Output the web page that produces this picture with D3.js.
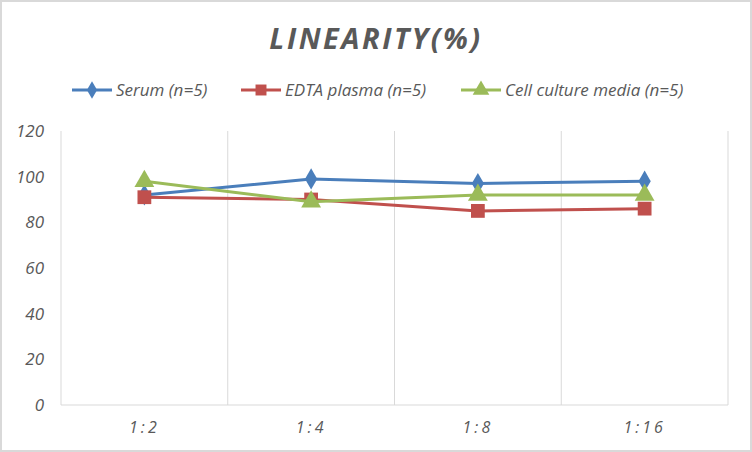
<!DOCTYPE html>
<html>
<head>
<meta charset="utf-8">
<script src="https://cdn.jsdelivr.net/npm/d3@7"></script>
<style>
  html, body { margin: 0; padding: 0; background: #fff; }
  svg { display: block; font-family: "Open Sans", "Liberation Sans", sans-serif; }
</style>
</head>
<body>
<div id="chart"></div>
<script>
const categories = ['1:2', '1:4', '1:8', '1:16'];
const serum = [92, 99, 97, 98];
const edta = [91, 90, 85, 86];
const cellCulture = [98, 89, 92, 92];
const yTicks = [0, 20, 40, 60, 80, 100, 120];

const seriesNames = ['Serum (n=5)', 'EDTA plasma (n=5)', 'Cell culture media (n=5)'];
const seriesColors = ['#4a7ebb', '#c0504d', '#9bbb59'];
const seriesShapes = [d3.symbolDiamond, d3.symbolSquare, d3.symbolTriangle];
const seriesValues = [serum, edta, cellCulture];

const width = 752, height = 452;
const margin = { top: 131, right: 24, bottom: 47, left: 61 };

const svg = d3.select('#chart').append('svg')
    .attr('width', width)
    .attr('height', height);

// cadre
svg.append('rect')
    .attr('x', 1).attr('y', 1)
    .attr('width', width - 2).attr('height', height - 2)
    .attr('fill', '#fff')
    .attr('stroke', '#d9d9d9')
    .attr('stroke-width', 2);

const x = d3.scaleBand()
    .domain(categories)
    .range([margin.left, width - margin.right]);

const y = d3.scaleLinear()
    .domain([0, 120])
    .range([height - margin.bottom, margin.top]);

// lignes verticales entre catégories
svg.append('g')
    .selectAll('line')
    .data(categories)
    .enter()
    .append('line')
    .attr('x1', d => x(d) + x.bandwidth())
    .attr('x2', d => x(d) + x.bandwidth())
    .attr('y1', y(0))
    .attr('y2', y(120))
    .attr('stroke', '#d9d9d9')
    .attr('stroke-width', 1);

// axe y vertical
svg.append('line')
    .attr('x1', margin.left).attr('x2', margin.left)
    .attr('y1', y(0)).attr('y2', y(120))
    .attr('stroke', '#d9d9d9');

// axe x
svg.append('line')
    .attr('x1', margin.left).attr('x2', width - margin.right)
    .attr('y1', y(0)).attr('y2', y(0))
    .attr('stroke', '#d9d9d9');

// étiquettes y
svg.append('g')
    .selectAll('text')
    .data(yTicks)
    .enter()
    .append('text')
    .attr('x', 44)
    .attr('y', d => y(d))
    .attr('dy', '0.35em')
    .attr('text-anchor', 'end')
    .attr('fill', '#595959')
    .style('font-size', '17px')
    .style('font-style', 'italic')
    .text(d => d);

// étiquettes x
svg.append('g')
    .selectAll('text')
    .data(categories)
    .enter()
    .append('text')
    .attr('x', d => x(d) + x.bandwidth() / 2)
    .attr('y', y(0) + 28)
    .attr('text-anchor', 'middle')
    .attr('fill', '#595959')
    .style('font-size', '16px')
    .style('font-style', 'italic')
    .style('letter-spacing', '3px')
    .text(d => d);

// séries
const line = d3.line()
    .x((d, i) => x(categories[i]) + x.bandwidth() / 2)
    .y(d => y(d));

seriesValues.forEach((vals, s) => {
    svg.append('path')
        .datum(vals)
        .attr('fill', 'none')
        .attr('stroke', seriesColors[s])
        .attr('stroke-width', 3)
        .attr('stroke-linejoin', 'round')
        .attr('d', line);

    svg.append('g')
        .selectAll('path')
        .data(vals)
        .enter()
        .append('path')
        .attr('transform', (d, i) => `translate(${x(categories[i]) + x.bandwidth() / 2},${y(d)})`)
        .attr('d', d3.symbol().type(seriesShapes[s]).size(s === 0 ? 130 : s === 1 ? 190 : 170))
        .attr('fill', seriesColors[s]);
});

// titre
svg.append('text')
    .attr('x', width / 2)
    .attr('y', 49)
    .attr('text-anchor', 'middle')
    .attr('fill', '#595959')
    .style('font-size', '29px')
    .style('font-weight', 'bold')
    .style('font-style', 'italic')
    .style('letter-spacing', '2.5px')
    .text('LINEARITY(%)');

// légende
const legendX = [72, 241, 461];
const legend = svg.append('g')
    .selectAll('g')
    .data(seriesNames)
    .enter()
    .append('g')
    .attr('transform', (d, i) => `translate(${legendX[i]},90)`);

legend.append('line')
    .attr('x1', 0).attr('x2', 40)
    .attr('stroke', (d, i) => seriesColors[i])
    .attr('stroke-width', 3);

legend.append('path')
    .attr('transform', 'translate(20,0)')
    .attr('d', (d, i) => d3.symbol().type(seriesShapes[i]).size(i === 0 ? 90 : 120)())
    .attr('fill', (d, i) => seriesColors[i]);

legend.append('text')
    .attr('x', 44)
    .attr('dy', '0.35em')
    .attr('fill', '#595959')
    .style('font-size', '17px')
    .style('font-style', 'italic')
    .text(d => d);
</script>
</body>
</html>
